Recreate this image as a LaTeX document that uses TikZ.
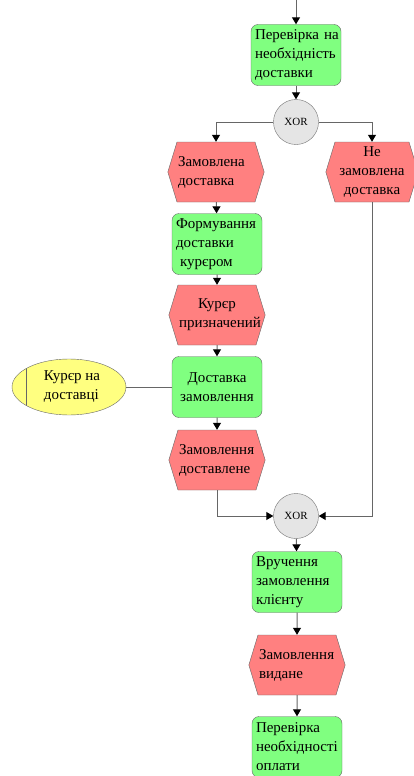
\documentclass[tikz,border=0pt]{standalone}
\usepackage{fontspec}
\setmainfont{Liberation Serif}
\usetikzlibrary{arrows.meta,shapes.symbols,shapes.geometric}

\definecolor{funcgreen}{HTML}{80FF80}
\definecolor{eventred}{HTML}{FF8080}
\definecolor{orgyellow}{HTML}{FFFF80}

\tikzset{
  func/.style={rectangle, rounded corners=7pt, draw=black!60, fill=funcgreen,
    minimum width=90pt, minimum height=61pt, inner sep=4pt, text width=82pt,
    align=left, font=\fontsize{15}{19}\selectfont},
  event/.style={signal, signal to=west and east, signal pointer angle=146,
    draw=black!60, fill=eventred, minimum width=91pt, minimum height=60pt,
    inner sep=1pt, text width=76pt, align=left, font=\fontsize{15}{19}\selectfont},
  xor/.style={circle, draw=black!55, fill=black!10, minimum size=45pt,
    inner sep=0pt, font=\fontsize{11}{12}\selectfont},
  orgunit/.style={ellipse, draw=black!60, fill=orgyellow, minimum width=114pt,
    minimum height=56pt, align=left, font=\fontsize{15}{19}\selectfont,
    path picture={\draw[black!60] ([xshift=14pt]path picture bounding box.north west)
      -- ([xshift=14pt]path picture bounding box.south west);}},
  flow/.style={draw=black!60, line width=1pt,
    -{Triangle[length=7pt,width=8pt,fill=black,color=black]}},
  link/.style={draw=black!60, line width=1pt},
}

\begin{document}
\begin{tikzpicture}[x=1pt,y=-1pt]
    \useasboundingbox (0,0) rectangle (414,776);
    \coordinate (start) at (296,0);
    \node[func] (check) at (296,55) {Перевірка~на\\необхідність\\доставки};
    \node[xor] (xora) at (296,122) {XOR};
    \node[event] (ordered) at (216,172) {Замовлена\\доставка};
    \node[event, minimum width=84pt, text width=72pt, align=center] (notordered) at (372,172) {Не\\замовлена\\доставка};
    \node[func] (forming) at (217,244) {Формування\\доставки\\\hspace*{4pt}курєром};
    \node[event, align=center] (assigned) at (217,315) {Курєр\\призначений};
    \node[func, align=center] (delivery) at (217,387) {Доставка\\замовлення};
    \node[orgunit] (courier) at (69,387) {\hspace*{6pt}Курєр~на\\\hspace*{6pt}доставці};
    \node[event] (delivered) at (217,460) {Замовлення\\доставлене};
    \node[xor] (xorb) at (296,516) {XOR};
    \node[func] (handover) at (297,582) {Вручення\\замовлення\\клієнту};
    \node[event] (handed) at (297,665) {Замовлення\\видане};
    \node[func] (payment) at (297,747) {Перевірка\\необхідності\\оплати};

    \draw[flow] (start) -- (check);
    \draw[flow] (check) -- (xora);
    \draw[flow] (xora) -| (ordered);
    \draw[flow] (xora) -| (notordered);
    \draw[flow] (ordered) -- (forming);
    \draw[flow] (forming) -- (assigned);
    \draw[flow] (assigned) -- (delivery);
    \draw[flow] (delivery) -- (delivered);
    \draw[link] (courier) -- (delivery);
    \draw[flow] (delivered) |- (xorb);
    \draw[flow] (notordered) |- (xorb);
    \draw[flow] (xorb) -- (handover);
    \draw[flow] (handover) -- (handed);
    \draw[flow] (handed) -- (payment);
\end{tikzpicture}
\end{document}
